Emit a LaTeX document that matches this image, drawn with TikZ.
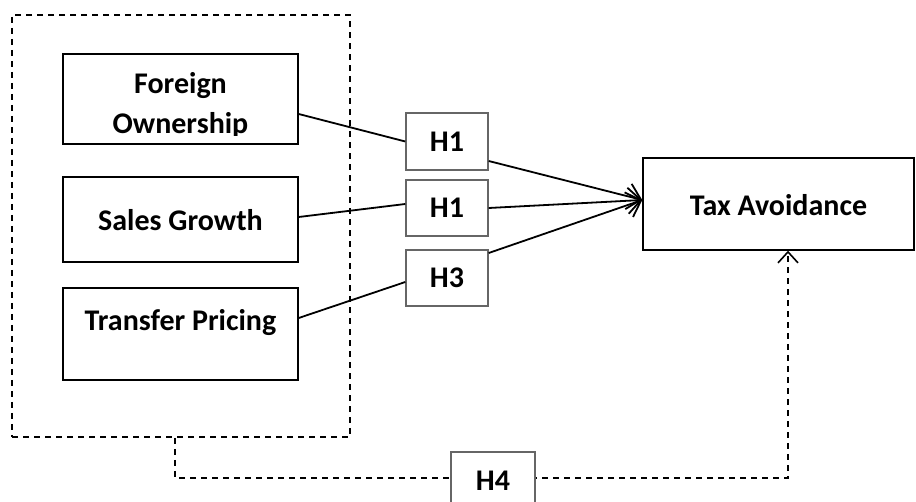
\documentclass[tikz,border=0pt]{standalone}
\usepackage{fontspec}
\setmainfont{Carlito}
\usetikzlibrary{arrows.meta}
\begin{document}
\begin{tikzpicture}[x=1pt,y=-1pt,
  font=\fontsize{30}{40}\selectfont\bfseries,
  varbox/.style={draw=black,line width=1.4pt,minimum width=235pt,inner sep=0pt},
  hbox/.style={draw=black!60,line width=1.4pt,fill=white,minimum width=82pt,minimum height=57pt,inner sep=0pt},
  link/.style={line width=1.8pt},
  dashlink/.style={line width=1.9pt,dash pattern=on 6pt off 5pt},
  bigtip/.style={-{Straight Barb[length=13pt,width=26pt,line width=1.8pt]}},
  smalltip/.style={-{Straight Barb[length=11pt,width=20pt,line width=1.6pt]}}]
\useasboundingbox (0,0) rectangle (916,502);
% outer dashed group
\node[draw,dashlink,minimum width=338pt,minimum height=422pt,inner sep=0pt] (grp) at (181,226) {};
% variable boxes
\node[varbox,minimum height=90pt] (fo) at (180.5,99) {};
\begin{scope}
\clip (63,54) rectangle (298,136);
\node[inner sep=0pt,anchor=base] (fot1) at (180.5,94) {Foreign};
\node[inner sep=0pt,anchor=base] (fot2) at (180.5,134) {Ownership};
\end{scope}
\node[varbox,minimum height=85pt] (sg) at (180.5,219.5) {};
\node[inner sep=0pt,anchor=base] (sgt) at (180.5,231) {Sales Growth};
\node[varbox,minimum height=92pt] (tp) at (180.5,334) {};
\node[inner sep=0pt,anchor=base] (tpt) at (180.5,331) {Transfer Pricing};
% dependent
\node[draw,line width=1.4pt,minimum width=271pt,minimum height=92pt,inner sep=0pt] (ta) at (778.5,204) {};
\node[inner sep=0pt,anchor=base] (tat) at (778.5,216) {Tax Avoidance};
% hypothesis boxes
\node[hbox] (h1a) at (447,141.5) {H1};
\node[hbox,minimum height=56pt] (h1b) at (447,208) {H1};
\node[hbox,minimum height=56pt] (h3) at (447,278) {H3};
% connectors
\draw[link] ([yshift=-15pt]fo.east) -- (h1a.west);
\draw[link] ([yshift=2.5pt]sg.east) -- ([yshift=4pt]h1b.west);
\draw[link] ([yshift=16pt]tp.east) -- ([yshift=-4pt]h3.west);
\coordinate (tip) at ([yshift=4pt]ta.west);
\draw[link,bigtip] ([yshift=-19.5pt]h1a.east) -- (tip);
\draw[link,bigtip] (h1b.east) -- (tip);
\draw[link,bigtip] ([yshift=25pt]h3.east) -- (tip);
% moderating dashed path
\draw[dashlink,smalltip] ([xshift=-6pt]grp.south) -- ++(0,40) -| ([xshift=9.5pt]ta.south);
\node[hbox,minimum width=84pt,minimum height=58pt] (h4) at (493,481) {H4};
\end{tikzpicture}
\end{document}
